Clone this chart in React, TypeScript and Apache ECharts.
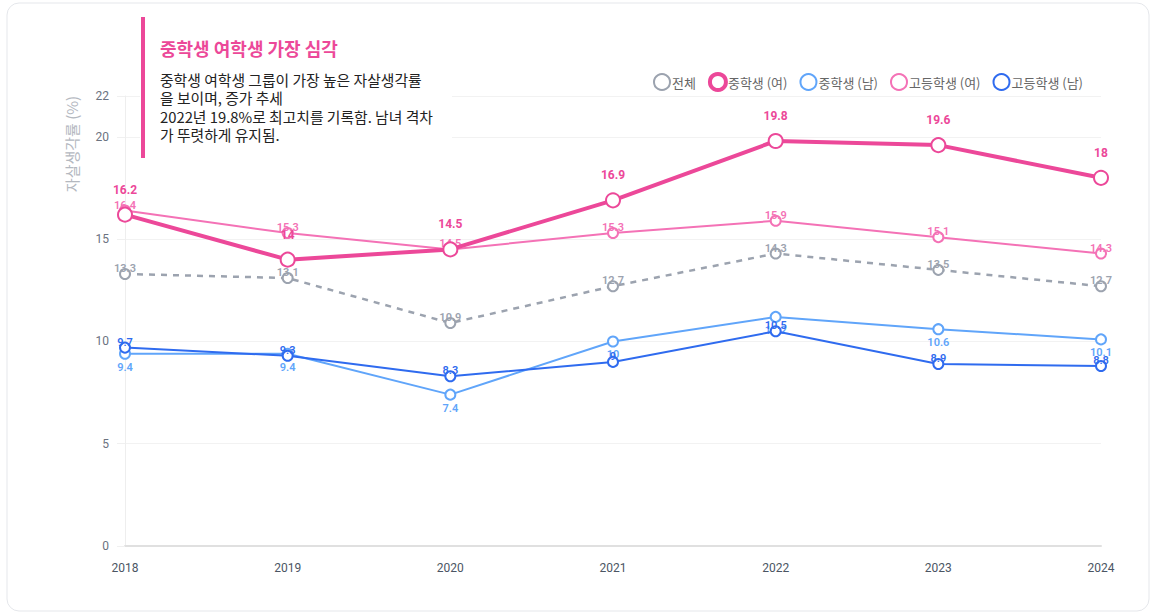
import React, { useEffect, useRef } from "react";
import * as echarts from "echarts";

const years = ["2018", "2019", "2020", "2021", "2022", "2023", "2024"];
const total = [13.3, 13.1, 10.9, 12.7, 14.3, 13.5, 12.7];
const middleGirls = [16.2, 14, 14.5, 16.9, 19.8, 19.6, 18];
const middleBoys = [9.4, 9.4, 7.4, 10, 11.2, 10.6, 10.1];
const highGirls = [16.4, 15.3, 14.5, 15.3, 15.9, 15.1, 14.3];
const highBoys = [9.7, 9.3, 8.3, 9, 10.5, 8.9, 8.8];
const seriesNames = ["전체", "중학생 (여)", "중학생 (남)", "고등학생 (여)", "고등학생 (남)"];
const yTicks = { min: 0, max: 22, interval: 5 };
const titleText = "중학생 여학생 가장 심각";
const bodyText =
  "중학생 여학생 그룹이 가장 높은 자살생각률\n을 보이며, 증가 추세\n2022년 19.8%로 최고치를 기록함. 남녀 격차\n가 뚜렷하게 유지됨.";
const yAxisName = "자살생각률 (%)";

const C_TOTAL = "#9ca3af";
const C_MG = "#ec4899";
const C_MB = "#60a5fa";
const C_HG = "#f472b6";
const C_HB = "#2f6bef";

const FONT = "Roboto, 'Noto Sans CJK KR', sans-serif";
const KFONT = "'Noto Sans CJK KR', sans-serif";

export default function App() {
  const ref = useRef<HTMLDivElement>(null);
  useEffect(() => {
    if (!ref.current) return;
    const chart = echarts.init(ref.current, undefined, { renderer: "svg" });
    const thin = (name: string, data: number[], color: string, label: any, extra: any = {}) => ({
      name,
      type: "line",
      data,
      symbol: "emptyCircle",
      symbolSize: 10,
      lineStyle: { color, width: 2, ...(extra.lineStyle || {}) },
      itemStyle: { color, borderColor: color, borderWidth: 2 },
      label: {
        show: true,
        color,
        fontSize: 11,
        fontWeight: 600,
        fontFamily: FONT,
        ...label,
      },
      labelLayout: { hideOverlap: false },
      z: extra.z || 2,
    });
    chart.setOption({
      animation: false,
      graphic: [
        {
          type: "rect",
          shape: { x: 7, y: 3, width: 1142, height: 608, r: 12 },
          style: { fill: "#fff", stroke: "#e5e7eb", lineWidth: 1 },
          z: -10,
          silent: true,
        },
        {
          type: "rect",
          shape: { x: 140, y: 14, width: 312, height: 148 },
          style: { fill: "#fff" },
          z: 50,
        },
        {
          type: "rect",
          shape: { x: 141, y: 17, width: 4, height: 141 },
          style: { fill: C_MG },
          z: 51,
        },
        {
          type: "text",
          x: 160,
          y: 48,
          style: {
            text: titleText,
            fill: C_MG,
            fontSize: 18,
            fontWeight: "bold",
            fontFamily: KFONT,
            verticalAlign: "middle",
          },
          z: 51,
        },
        {
          type: "text",
          x: 160,
          y: 70,
          style: {
            text: bodyText,
            fill: "#222",
            fontSize: 14.8,
            lineHeight: 18.5,
            fontFamily: KFONT,
            verticalAlign: "top",
          },
          z: 51,
        },
        {
          type: "text",
          x: 71,
          y: 144,
          rotation: Math.PI / 2,
          style: {
            text: yAxisName,
            fill: "#b4b8bf",
            fontSize: 15,
            fontFamily: KFONT,
            align: "center",
            verticalAlign: "middle",
          },
        },
      ],
      legend: {
        top: 67,
        right: 68,
        icon: "circle",
        itemWidth: 16,
        itemHeight: 16,
        itemGap: 12,
        textStyle: { color: "#666", fontSize: 13, fontFamily: KFONT, padding: [0, 0, 0, -3] },
        data: [
          { name: seriesNames[0], itemStyle: { color: "#fff", borderColor: C_TOTAL, borderWidth: 2 } },
          { name: seriesNames[1], itemStyle: { color: "#fff", borderColor: C_MG, borderWidth: 4 } },
          { name: seriesNames[2], itemStyle: { color: "#fff", borderColor: C_MB, borderWidth: 2 } },
          { name: seriesNames[3], itemStyle: { color: "#fff", borderColor: C_HG, borderWidth: 2 } },
          { name: seriesNames[4], itemStyle: { color: "#fff", borderColor: C_HB, borderWidth: 2 } },
        ],
      },
      grid: { left: 125, right: 55, top: 96, bottom: 69 },
      xAxis: {
        type: "category",
        data: years,
        boundaryGap: false,
        axisLine: { show: true, lineStyle: { color: "#e0e0e0", width: 2 } },
        axisTick: { show: false },
        axisLabel: { color: "#4b5563", fontSize: 12, margin: 16, fontFamily: FONT },
        splitLine: { show: false },
      },
      yAxis: {
        type: "value",
        min: yTicks.min,
        max: yTicks.max,
        interval: yTicks.interval,
        axisLine: { show: true, lineStyle: { color: "#eeeeee" } },
        axisTick: { show: true, length: 8, lineStyle: { color: "#f0f0f0" } },
        axisLabel: { color: "#6b7280", fontSize: 12, margin: 16, fontFamily: FONT },
        splitLine: { show: true, lineStyle: { color: "#f2f2f2" } },
      },
      series: [
        thin(seriesNames[0], total, C_TOTAL, { position: "top", distance: -6 }, {
          lineStyle: { type: [6, 6], width: 2.5 },
        }),
        {
          name: seriesNames[1],
          type: "line",
          data: middleGirls,
          symbol: "emptyCircle",
          symbolSize: 14,
          lineStyle: { color: C_MG, width: 4 },
          itemStyle: { color: C_MG, borderColor: C_MG, borderWidth: 3.5 },
          label: {
            show: true,
            position: "top",
            distance: 11,
            color: C_MG,
            fontSize: 12,
            fontWeight: "bold",
            fontFamily: FONT,
          },
          labelLayout: { hideOverlap: false },
          z: 10,
        },
        thin(seriesNames[2], middleBoys, C_MB, { position: "bottom", distance: 2 }),
        thin(seriesNames[3], highGirls, C_HG, { position: "top", distance: -6 }, { z: 3 }),
        thin(seriesNames[4], highBoys, C_HB, { position: "top", distance: -6 }, { z: 4 }),
      ],
    });
    return () => chart.dispose();
  }, []);
  return (
    <div
      ref={ref}
      style={{ position: "fixed", left: 0, top: 0, width: 1156, height: 615, background: "#fff" }}
    />
  );
}
